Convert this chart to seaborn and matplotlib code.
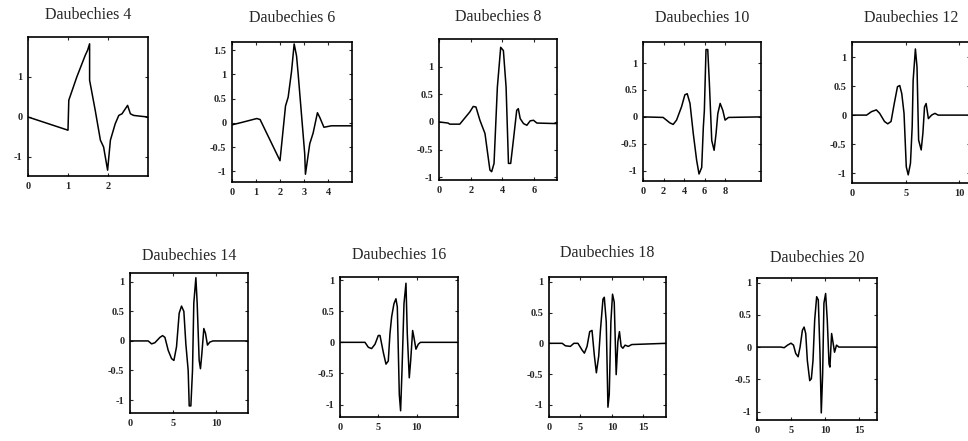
import pandas as pd
import seaborn as sns
import matplotlib.pyplot as plt

# Wavelet curves
db4_x = [0, 1.0, 1.02, 1.22, 1.43, 1.49, 1.54, 1.54, 1.68, 1.81, 1.89, 1.99, 2.06, 2.18, 2.27, 2.35, 2.49, 2.56, 2.64, 2.81, 3.0]
db4_y = [0, -0.33, 0.42, 1.0, 1.54, 1.67, 1.83, 0.92, 0.17, -0.58, -0.75, -1.33, -0.58, -0.17, 0.04, 0.08, 0.29, 0.08, 0.04, 0.02, 0.0]

db6_x = [0, 0.41, 1.03, 1.17, 2.0, 2.23, 2.34, 2.48, 2.59, 2.69, 2.76, 3.03, 3.06, 3.24, 3.38, 3.56, 3.66, 3.83, 4.14, 5.0]
db6_y = [-0.04, 0.01, 0.09, 0.07, -0.78, 0.35, 0.53, 1.06, 1.63, 1.38, 0.99, -0.64, -1.06, -0.43, -0.21, 0.21, 0.11, -0.09, -0.06, -0.06]

db8_x = [0, 0.57, 0.68, 1.31, 1.94, 2.16, 2.33, 2.58, 2.9, 3.04, 3.21, 3.32, 3.47, 3.68, 3.89, 4.06, 4.23, 4.38, 4.52, 4.69, 4.9, 5.0, 5.12, 5.33, 5.54, 5.75, 5.96, 6.17, 7.44]
db8_y = [0, -0.02, -0.04, -0.04, 0.18, 0.28, 0.27, 0.03, -0.21, -0.51, -0.87, -0.9, -0.75, 0.63, 1.35, 1.29, 0.63, -0.75, -0.75, -0.33, 0.21, 0.24, 0.06, -0.03, -0.06, 0.02, 0.03, -0.02, -0.03]

db10_x = [0, 1.96, 2.61, 2.94, 3.27, 3.76, 4.08, 4.31, 4.58, 4.9, 5.23, 5.46, 5.72, 5.88, 5.98, 6.14, 6.31, 6.47, 6.7, 6.93, 7.12, 7.29, 7.52, 7.78, 8.0, 8.33, 11.5]
db10_y = [0, -0.01, -0.11, -0.14, -0.06, 0.19, 0.41, 0.43, 0.25, -0.31, -0.81, -1.06, -0.94, -0.19, 0.12, 1.25, 1.25, 0.62, -0.44, -0.62, -0.31, 0.06, 0.25, 0.12, -0.06, -0.01, 0]

db12_x = [0, 1.36, 1.82, 2.27, 2.58, 3.03, 3.33, 3.64, 3.94, 4.24, 4.45, 4.64, 4.85, 5.06, 5.24, 5.45, 5.61, 5.7, 5.91, 6.06, 6.21, 6.45, 6.61, 6.76, 6.91, 7.12, 7.42, 7.73, 8.03, 11.0]
db12_y = [0, 0, 0.06, 0.09, 0.03, -0.11, -0.15, -0.11, 0.2, 0.49, 0.51, 0.37, 0.03, -0.89, -1.03, -0.83, -0.2, 0.6, 1.14, 0.83, -0.43, -0.6, -0.31, 0.14, 0.2, -0.06, 0, 0.03, 0, 0]

db14_x = [0, 2.1, 2.5, 2.88, 3.46, 3.77, 4.04, 4.42, 4.81, 5.08, 5.38, 5.69, 5.96, 6.23, 6.46, 6.73, 6.85, 7.04, 7.23, 7.38, 7.62, 7.77, 8.0, 8.15, 8.31, 8.54, 8.73, 8.96, 9.23, 9.6, 13.65]
db14_y = [0, 0, -0.05, -0.03, 0.06, 0.09, 0.06, -0.16, -0.3, -0.33, -0.1, 0.47, 0.59, 0.5, -0.05, -0.5, -1.1, -1.1, -0.5, 0.64, 1.07, 0.64, -0.33, -0.47, -0.22, 0.21, 0.13, -0.07, -0.02, 0, 0]

db16_x = [0, 3.26, 3.7, 4.13, 4.57, 5.0, 5.22, 5.65, 6.0, 6.3, 6.52, 6.74, 7.04, 7.3, 7.48, 7.74, 7.91, 8.09, 8.35, 8.61, 8.78, 9.04, 9.22, 9.48, 9.65, 9.91, 10.22, 10.5, 15.4]
db16_y = [0, 0, -0.08, -0.1, -0.03, 0.11, 0.11, -0.16, -0.35, -0.3, 0.14, 0.41, 0.62, 0.7, 0.57, -0.84, -1.1, -0.46, 0.62, 0.95, 0.14, -0.57, -0.3, 0.19, 0.08, -0.11, -0.03, 0, 0]

db18_x = [0, 2.1, 2.6, 3.4, 3.95, 4.6, 5.26, 5.63, 6.05, 6.47, 6.84, 7.2, 7.53, 7.9, 8.16, 8.58, 8.79, 9.1, 9.37, 9.58, 9.84, 10.1, 10.37, 10.68, 10.95, 11.2, 11.47, 11.74, 12.1, 12.6, 13.16, 18.6]
db18_y = [0, 0, -0.04, -0.05, 0, 0, -0.11, -0.16, -0.05, 0.19, 0.21, -0.19, -0.48, -0.21, 0.19, 0.72, 0.75, 0.35, -1.04, -0.83, 0.35, 0.8, 0.67, -0.51, 0.03, 0.19, -0.05, -0.08, -0.03, -0.05, -0.02, 0]

db20_x = [0, 3.5, 4.0, 4.5, 5.0, 5.37, 5.7, 6.05, 6.34, 6.68, 6.93, 7.17, 7.41, 7.76, 8.0, 8.24, 8.49, 8.78, 9.02, 9.27, 9.46, 9.66, 9.85, 10.1, 10.34, 10.6, 10.73, 10.98, 11.22, 11.41, 11.7, 12.05, 17.66]
db20_y = [0, 0, -0.01, 0.03, 0.06, 0.03, -0.1, -0.15, 0, 0.26, 0.31, 0.21, -0.21, -0.52, -0.49, -0.21, 0.42, 0.78, 0.73, -0.1, -1.02, -0.42, 0.68, 0.83, 0.42, -0.26, -0.31, 0.21, 0.05, -0.08, 0.03, 0, 0]

titles = ['Daubechies 4', 'Daubechies 6', 'Daubechies 8', 'Daubechies 10', 'Daubechies 12',
          'Daubechies 14', 'Daubechies 16', 'Daubechies 18', 'Daubechies 20']
curves = [(db4_x, db4_y), (db6_x, db6_y), (db8_x, db8_y), (db10_x, db10_y), (db12_x, db12_y),
          (db14_x, db14_y), (db16_x, db16_y), (db18_x, db18_y), (db20_x, db20_y)]

xticks = [[0, 1, 2], [0, 1, 2, 3, 4], [0, 2, 4, 6], [0, 2, 4, 6, 8], [0, 5, 10],
          [0, 5, 10], [0, 5, 10], [0, 5, 10, 15], [0, 5, 10, 15]]
yticks = [[-1, 0, 1], [-1, -0.5, 0, 0.5, 1, 1.5]] + [[-1, -0.5, 0, 0.5, 1]] * 7

# layout in pixels: box left, top, right, bottom, title centre y
W, H = 968, 441
boxes = [(28, 37, 148, 176, 15), (232, 42, 352, 182, 18), (439, 39, 557, 180, 17),
         (643, 42, 761, 181, 18), (852, 42, 970, 183, 18),
         (130, 273, 248, 413, 256), (340, 277, 458, 417, 255), (549, 277, 666, 417, 253),
         (757, 278, 877, 420, 258)]
xlims = [3, 5, 7.44, 11.5, 11, 13.65, 15.4, 18.6, 17.66]
ylims = [(-1.475, 2.0), (-1.22, 1.67), (-1.05, 1.5), (-1.19, 1.39), (-1.17, 1.26),
         (-1.22, 1.15), (-1.2, 1.05), (-1.2, 1.08), (-1.13, 1.07)]

sns.set_style('ticks')
plt.rcParams['font.family'] = ['Liberation Serif', 'DejaVu Serif']

fig = plt.figure(figsize=(W / 100, H / 100), dpi=100)

def fmt(v):
    return str(int(v)) if float(v).is_integer() else str(v)

for i, (name, (xs, ys)) in enumerate(zip(titles, curves)):
    l, t, r, b, ty = boxes[i]
    ax = fig.add_axes([l / W, 1 - b / H, (r - l) / W, (b - t) / H])
    df = pd.DataFrame({'x': xs, 'y': ys})
    sns.lineplot(data=df, x='x', y='y', sort=False, estimator=None,
                 color='black', linewidth=1.1, ax=ax)
    ax.set_xlim(0, xlims[i])
    ax.set_ylim(*ylims[i])
    ax.set_xticks(xticks[i])
    ax.set_xticklabels([fmt(v) for v in xticks[i]], fontweight='bold')
    ax.set_yticks(yticks[i])
    ax.set_yticklabels([fmt(v) for v in yticks[i]], fontweight='bold')
    ax.tick_params(direction='in', length=2.5, width=0.8, labelsize=7.5,
                   top=True, right=True, pad=4)
    ax.set_xlabel('')
    ax.set_ylabel('')
    for s in ax.spines.values():
        s.set_linewidth(1.2)
        s.set_color('black')
    fig.text((l + r) / 2 / W, 1 - ty / H, name, ha='center', va='center', fontsize=11.5)

fig.savefig('out.png', dpi=100)
